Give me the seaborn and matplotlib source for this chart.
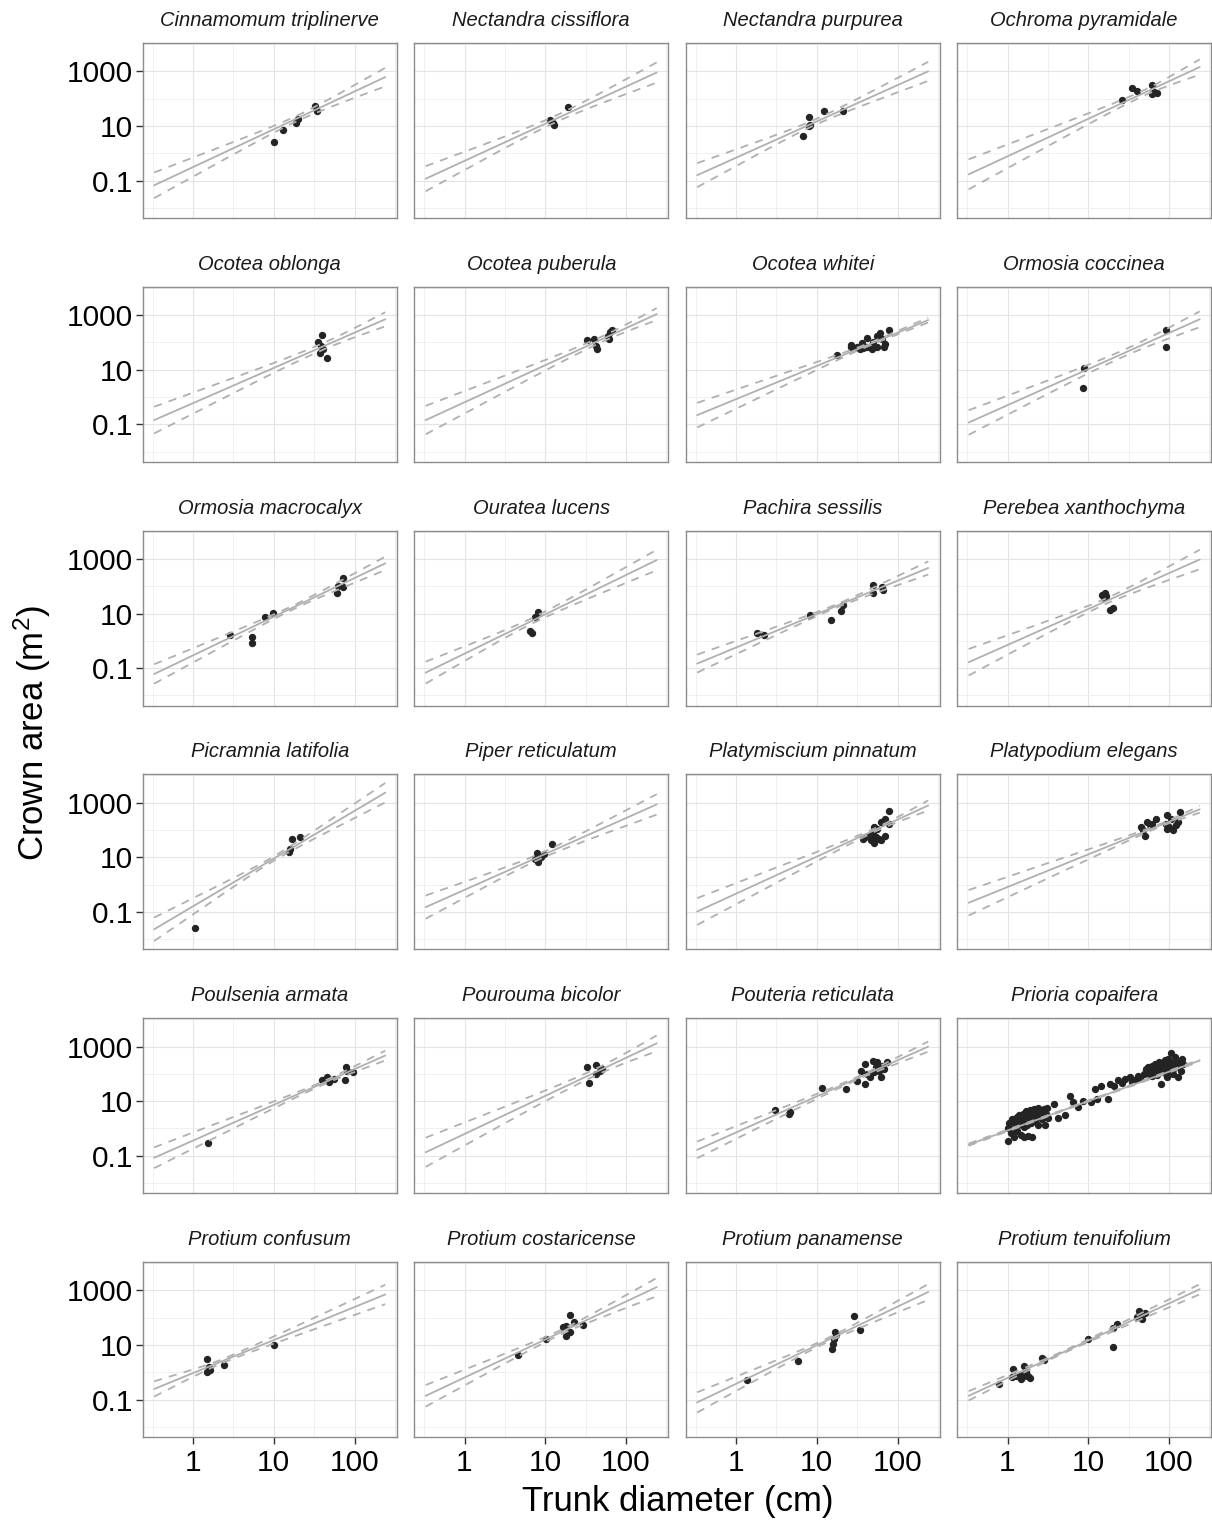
import numpy as np
import pandas as pd
import matplotlib
matplotlib.use("Agg")
import matplotlib.pyplot as plt
from matplotlib.ticker import FixedLocator, NullFormatter, FixedFormatter
import seaborn as sns

# ---------------------------------------------------------------------------
# Species shown, in panel order
species = [
    "Cinnamomum triplinerve", "Nectandra cissiflora", "Nectandra purpurea", "Ochroma pyramidale",
    "Ocotea oblonga", "Ocotea puberula", "Ocotea whitei", "Ormosia coccinea",
    "Ormosia macrocalyx", "Ouratea lucens", "Pachira sessilis", "Perebea xanthochyma",
    "Picramnia latifolia", "Piper reticulatum", "Platymiscium pinnatum", "Platypodium elegans",
    "Poulsenia armata", "Pourouma bicolor", "Pouteria reticulata", "Prioria copaifera",
    "Protium confusum", "Protium costaricense", "Protium panamense", "Protium tenuifolium",
]

# Measured trees: trunk diameter (cm) and crown area (m^2)
cinnamomum_dbh = [10, 13, 19, 20, 32, 34]
cinnamomum_area = [2.5, 7, 13, 18, 55, 34]
nect_ciss_dbh = [11.5, 12.5, 13, 19]
nect_ciss_area = [16, 13, 11, 51]
nect_purp_dbh = [6.8, 7.9, 7.9, 8.2, 12.4, 21]
nect_purp_area = [4.2, 9.8, 22, 11, 35, 35]
ochroma_dbh = [26, 35, 40, 61, 61, 70, 66]
ochroma_area = [87, 250, 190, 310, 150, 160, 180]
oco_oblonga_dbh = [39, 35, 38, 41, 37, 45]
oco_oblonga_area = [186, 105, 74, 60, 40, 26]
oco_puberula_dbh = [33, 40, 42, 44, 59, 63, 67, 62]
oco_puberula_area = [123, 130, 73, 60, 170, 245, 280, 140]
oco_whitei_dbh = [17.6, 26.3, 26.9, 31.6, 36.3, 37.2, 41.7, 41.7, 47.9, 49.0,
                  55.0, 56.2, 60.3, 64.6, 67.6, 69.2, 79.4, 34.7]
oco_whitei_area = [34.7, 79.4, 66.1, 70.8, 95.5, 60.3, 141, 66.1, 57.5, 100,
                   174, 66.1, 219, 132, 70.8, 87.1, 288, 57.5]
orm_cocc_dbh = [8.9, 8.7, 91, 92]
orm_cocc_area = [12, 2.2, 290, 66]
orm_macro_dbh = [2.85, 5.4, 5.4, 7.8, 9.7, 61, 63, 71, 72]
orm_macro_area = [1.66, 1.35, 0.87, 7.8, 10.2, 55, 100, 195, 91]
ouratea_dbh = [8.1, 7.4, 6.4, 6.8]
ouratea_area = [11.7, 7.4, 2.4, 1.9]
pachira_dbh = [1.8, 2.24, 8.2, 15, 20, 21, 49, 49, 65, 66]
pachira_area = [1.96, 1.58, 9.1, 5.7, 12, 20, 114, 57, 95, 71]
perebea_dbh = [15, 16.2, 15.5, 16.8, 18.5, 20]
perebea_area = [50, 58, 37, 45, 14, 16]
picramnia_dbh = [1.07, 15.5, 16.7, 21, 15.8]
picramnia_area = [0.025, 16, 46, 55, 20]
piper_dbh = [7.8, 7.5, 8.2, 9.7, 12.2, 8.8]
piper_area = [15, 8.9, 6.7, 13.5, 32, 10]
platymiscium_dbh = [79, 69, 62, 51, 49, 40, 51, 59, 69, 79, 47, 56, 62, 45, 54, 37]
platymiscium_area = [480, 257, 195, 129, 85, 55, 35, 48, 63, 170, 42, 112, 42, 63, 55, 48]
platypodium_dbh = [45, 50, 54, 69, 62, 95, 100, 112, 129, 135, 91, 107, 47, 58, 123, 95]
platypodium_area = [129, 63, 195, 257, 170, 347, 129, 98, 195, 479, 170, 257, 98, 148, 148, 112]
poulsenia_dbh = [1.55, 39.5, 45.7, 47.9, 55.6, 78, 81, 77, 95]
poulsenia_area = [0.29, 57.5, 79, 50, 66, 174, 132, 60, 115]
pourouma_dbh = [33, 43, 51, 43, 35, 48]
pourouma_area = [185, 214, 148, 100, 48, 130]
pouteria_dbh = [3.0, 4.5, 4.7, 11.7, 23, 40, 40, 49, 56, 65, 75, 51, 62, 35, 42, 68, 46, 31.6, 59, 54]
pouteria_area = [4.8, 3.4, 4.0, 30, 28, 43, 234, 309, 266, 200, 270, 115, 76, 132, 100, 150, 76, 57, 132, 180]
prioria_dbh = [
    1.0, 1.0, 1.05, 1.1, 1.1, 1.15, 1.2, 1.2, 1.25, 1.3, 1.3, 1.35, 1.4, 1.4, 1.45, 1.5,
    1.5, 1.55, 1.6, 1.6, 1.65, 1.7, 1.7, 1.75, 1.8, 1.8, 1.85, 1.9, 1.95, 2.0, 2.0, 2.1,
    2.1, 2.2, 2.25, 2.3, 2.4, 2.4, 2.5, 2.6, 2.7, 2.8, 2.9, 3.0, 3.1, 3.2,
    3.8, 4.2, 5.2, 6.0, 6.5, 7.5, 8.5, 10.7, 12, 13, 14.5, 17.8, 18.6, 21, 23.4, 26,
    28.8, 33, 35, 38, 41.7, 44, 49,
    52, 55, 56, 58, 60, 62, 62, 65, 66, 68, 70, 72, 74, 76, 78, 80, 82, 85, 88, 90,
    91, 95, 98, 100, 102, 107, 108, 117, 112, 118, 120, 123, 135, 141, 145, 150, 129,
    112, 95,
]
prioria_area = [
    0.35, 1.0, 1.6, 0.7, 1.3, 2.2, 0.5, 1.1, 1.7, 2.6, 0.8, 1.3, 2.0, 3.0, 0.6, 1.5,
    2.4, 3.5, 1.1, 0.5, 2.0, 2.8, 4.2, 1.4, 0.55, 3.2, 2.2, 4.6, 1.6, 0.5, 2.6, 3.6,
    5.0, 1.9, 2.9, 4.0, 5.5, 1.3, 3.2, 4.5, 2.3, 5.0, 1.3, 3.5, 5.5, 2.5,
    8, 2.5, 3.0, 16, 9, 6, 10, 9, 28, 12, 37, 12, 43, 35, 58, 48,
    66, 76, 50, 58, 87, 70, 100,
    150, 175, 120, 90, 130, 200, 85, 160, 110, 240, 140, 95, 190, 280, 120, 43, 170,
    230, 140, 320, 100, 200, 350, 130, 260, 575, 180, 400, 150, 300, 220, 174, 270,
    132, 350, 240, 76, 100, 76,
]
prot_conf_dbh = [1.5, 1.58, 1.5, 2.4, 10, 1.6]
prot_conf_area = [3.1, 1.5, 1.0, 1.8, 9.6, 1.25]
prot_cost_dbh = [4.6, 10.2, 16.6, 20, 22.4, 18.2, 20, 29, 18.2]
prot_cost_area = [4.4, 17, 45, 125, 72, 21, 31, 56, 51]
prot_pana_dbh = [1.38, 5.8, 15.5, 15.8, 16.2, 17, 17.5, 29, 34]
prot_pana_area = [0.52, 2.6, 7.2, 11, 16, 31, 24, 114, 34]
prot_tenu_dbh = [0.79, 1.16, 1.13, 1.27, 1.43, 1.58, 1.71, 1.79, 1.88, 1.62, 1.47,
                 2.7, 2.8, 10, 20, 20, 23, 42, 43, 46, 50, 40]
prot_tenu_area = [0.37, 1.32, 0.66, 0.76, 0.79, 1.66, 1.0, 0.72, 0.62, 0.76, 0.58,
                  3.3, 2.9, 16, 41, 8.7, 60, 174, 120, 87, 150, 105]

dbh_lists = [cinnamomum_dbh, nect_ciss_dbh, nect_purp_dbh, ochroma_dbh, oco_oblonga_dbh,
             oco_puberula_dbh, oco_whitei_dbh, orm_cocc_dbh, orm_macro_dbh, ouratea_dbh,
             pachira_dbh, perebea_dbh, picramnia_dbh, piper_dbh, platymiscium_dbh,
             platypodium_dbh, poulsenia_dbh, pourouma_dbh, pouteria_dbh, prioria_dbh,
             prot_conf_dbh, prot_cost_dbh, prot_pana_dbh, prot_tenu_dbh]
area_lists = [cinnamomum_area, nect_ciss_area, nect_purp_area, ochroma_area, oco_oblonga_area,
              oco_puberula_area, oco_whitei_area, orm_cocc_area, orm_macro_area, ouratea_area,
              pachira_area, perebea_area, picramnia_area, piper_area, platymiscium_area,
              platypodium_area, poulsenia_area, pourouma_area, pouteria_area, prioria_area,
              prot_conf_area, prot_cost_area, prot_pana_area, prot_tenu_area]

# Fitted allometry: log10(area) = intercept + slope * log10(dbh)
intercept = [-0.505, -0.277, -0.162, -0.110, -0.221, -0.189, -0.076, -0.296, -0.530, -0.468,
             -0.243, -0.149, -0.791, -0.189, -0.329, -0.086, -0.442, -0.200, -0.146, -0.073,
             -0.029, -0.192, -0.422, -0.205]
slope = [1.385, 1.360, 1.329, 1.374, 1.290, 1.357, 1.217, 1.322, 1.416, 1.441,
         1.224, 1.315, 1.748, 1.315, 1.357, 1.196, 1.308, 1.395, 1.322, 1.077,
         1.210, 1.392, 1.413, 1.364]
# Half-width of the confidence band (log10 units): at the small end, at the large end,
# and its narrowest value near the centre of the data
ci_left = [0.47, 0.46, 0.44, 0.55, 0.49, 0.52, 0.45, 0.45, 0.355, 0.40, 0.33, 0.485,
           0.43, 0.425, 0.49, 0.465, 0.38, 0.535, 0.305, 0.04, 0.28, 0.395, 0.37, 0.17]
ci_right = [0.34, 0.37, 0.35, 0.28, 0.26, 0.22, 0.09, 0.29, 0.245, 0.375, 0.24, 0.355,
            0.355, 0.375, 0.185, 0.125, 0.18, 0.29, 0.185, 0.04, 0.355, 0.335, 0.29, 0.185]
ci_min = [0.10, 0.12, 0.10, 0.10, 0.12, 0.10, 0.05, 0.12, 0.07, 0.10, 0.06, 0.10,
          0.08, 0.10, 0.06, 0.05, 0.06, 0.12, 0.05, 0.02, 0.07, 0.08, 0.07, 0.04]

# Diameter range over which predictions are drawn
pred_dbh_min, pred_dbh_max = 0.33, 240

# ---------------------------------------------------------------------------
points = pd.DataFrame({
    "species": np.concatenate([[sp] * len(d) for sp, d in zip(species, dbh_lists)]),
    "dbh": np.concatenate(dbh_lists).astype(float),
    "area": np.concatenate(area_lists).astype(float),
})

lx_grid = np.linspace(np.log10(pred_dbh_min), np.log10(pred_dbh_max), 160)
pred_frames = []
for i, sp in enumerate(species):
    centre = np.mean(np.log10(dbh_lists[i]))
    fit = intercept[i] + slope[i] * lx_grid
    s0 = ci_min[i]
    k_left = np.sqrt(max(ci_left[i] ** 2 - s0 ** 2, 0)) / (centre - lx_grid[0])
    k_right = np.sqrt(max(ci_right[i] ** 2 - s0 ** 2, 0)) / (lx_grid[-1] - centre)
    k = np.where(lx_grid < centre, k_left, k_right)
    half = np.sqrt(s0 ** 2 + (k * (lx_grid - centre)) ** 2)
    for part, vals in (("fit", fit), ("lower", fit - half), ("upper", fit + half)):
        pred_frames.append(pd.DataFrame({"species": sp, "part": part,
                                         "dbh": 10 ** lx_grid, "area": 10 ** vals}))
pred = pd.concat(pred_frames, ignore_index=True)

# ---------------------------------------------------------------------------
sns.set_theme(style="white")
plt.rcParams["font.family"] = ["Liberation Sans", "DejaVu Sans"]
plt.rcParams["mathtext.fontset"] = "custom"
plt.rcParams["mathtext.rm"] = "Liberation Sans"
plt.rcParams["mathtext.it"] = "Liberation Sans:italic"
plt.rcParams["text.color"] = "black"

W, H = 1212, 1523
g = sns.FacetGrid(points, col="species", col_wrap=4, col_order=species,
                  sharex=True, sharey=True, height=2.0, aspect=1.45, despine=False)
g.map_dataframe(sns.scatterplot, x="dbh", y="area", color="#242424", s=28,
                linewidth=0, zorder=3)

line_col = "#b0b0b0"
for i, sp in enumerate(species):
    ax = g.axes_dict[sp]
    sns.lineplot(data=pred[pred["species"] == sp], x="dbh", y="area", style="part",
                 dashes={"fit": "", "lower": (4.5, 4.0), "upper": (4.5, 4.0)},
                 color=line_col, linewidth=1.3, estimator=None, sort=False,
                 legend=False, ax=ax, zorder=4)

g.set_titles("")
g.set_axis_labels("", "")

for i, sp in enumerate(species):
    ax = g.axes_dict[sp]
    row, col = divmod(i, 4)
    ax.set_xscale("log")
    ax.set_yscale("log")
    ax.set_xlim(10 ** -0.62, 10 ** 2.52)
    ax.set_ylim(10 ** -2.37, 10 ** 4.04)
    ax.xaxis.set_major_locator(FixedLocator([1, 10, 100]))
    ax.xaxis.set_major_formatter(FixedFormatter(["1", "10", "100"]))
    ax.xaxis.set_minor_locator(FixedLocator([10 ** -0.5, 10 ** 0.5, 10 ** 1.5, 10 ** 2.5]))
    ax.xaxis.set_minor_formatter(NullFormatter())
    ax.yaxis.set_major_locator(FixedLocator([0.1, 10, 1000]))
    ax.yaxis.set_major_formatter(FixedFormatter(["0.1", "10", "1000"]))
    ax.yaxis.set_minor_locator(FixedLocator([0.01, 1, 100, 10000]))
    ax.yaxis.set_minor_formatter(NullFormatter())
    ax.set_xlabel("")
    ax.set_ylabel("")
    ax.set_facecolor("white")
    ax.grid(True, which="major", color="#e4e4e4", linewidth=0.8, zorder=0)
    ax.grid(True, which="minor", color="#eeeeee", linewidth=0.6, zorder=0)
    ax.set_axisbelow(True)
    for s in ax.spines.values():
        s.set_color("#8c8c8c")
        s.set_linewidth(1.0)
    ax.tick_params(which="minor", length=0)
    ax.tick_params(axis="x", which="major", bottom=(row == 5), length=5, width=1,
                   color="#333333", labelsize=21.5, labelcolor="black", pad=4,
                   labelbottom=(row == 5))
    ax.tick_params(axis="y", which="major", left=(col == 0), length=5, width=1,
                   color="#333333", labelsize=21.5, labelcolor="black", pad=2,
                   labelleft=(col == 0))
    ax.text(0.5, 1 + 17 / 175, sp, transform=ax.transAxes, ha="center", va="baseline",
            fontsize=14.5, style="italic", color="#1a1a1a")

fig = g.figure
fig.set_size_inches(W / 100, H / 100)
fig.subplots_adjust(left=143 / W, right=1211 / W, bottom=1 - 1437 / H, top=1 - 43 / H,
                    wspace=18 / 254, hspace=68.8 / 175)
fig.text(32 / W, 1 - 733 / H, "Crown area (m$^2$)", rotation=90, ha="center", va="center",
         fontsize=25, color="black")
fig.text(678 / W, 1 - 1502 / H, "Trunk diameter (cm)", ha="center", va="center",
         fontsize=25, color="black")
fig.savefig("out.png", dpi=100)
